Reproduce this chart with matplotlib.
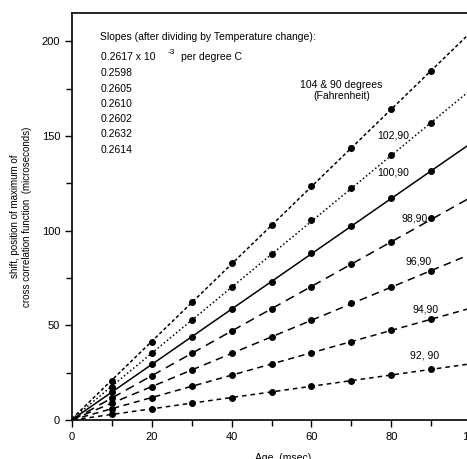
import matplotlib

matplotlib.use("Agg")
import matplotlib.pyplot as plt
import numpy as np
from matplotlib.ticker import MultipleLocator

matplotlib.rcParams.update(
    {
        "font.family": "sans-serif",
        "font.sans-serif": ["Liberation Sans", "DejaVu Sans"],
        "font.size": 7.5,
    }
)

# Age in msec
age = [10, 20, 30, 40, 50, 60, 70, 80, 90]

# shift (microseconds) for each temperature pair (F)
shift_104 = [20.8, 41.3, 62.1, 82.7, 103.0, 123.5, 143.7, 164.0, 184.3]
shift_102 = [17.6, 35.2, 52.8, 70.0, 87.6, 105.5, 122.3, 139.8, 156.7]
shift_100 = [14.6, 29.4, 44.0, 58.6, 73.0, 88.0, 102.4, 117.0, 131.5]
shift_98 = [11.8, 23.4, 35.2, 47.1, 58.4, 70.4, 82.2, 93.8, 106.5]
shift_96 = [8.8, 17.6, 26.4, 35.2, 44.0, 52.8, 61.6, 70.0, 78.8]
shift_94 = [5.9, 11.8, 17.9, 23.7, 29.6, 35.5, 41.3, 47.5, 53.1]
shift_92 = [3.0, 5.8, 8.8, 11.8, 14.9, 18.1, 20.7, 23.7, 26.7]

series_labels = ["104 & 90 degrees\n(Fahrenheit)", "102,90", "100,90", "98,90",
                 "96,90", "94,90", "92, 90"]
slopes = ["0.2617", "0.2598", "0.2605", "0.2610", "0.2602", "0.2632", "0.2614"]

series = [shift_104, shift_102, shift_100, shift_98, shift_96, shift_94, shift_92]
styles = [(0, (2.2, 1.6)), (0, (1.0, 1.6)), "-", (0, (6, 4)), (0, (5, 3.5)),
          (0, (4, 3)), (0, (3, 2.6))]
label_pos = [(67.5, 174), (80.4, 150.4), (80.4, 130.9), (85.9, 106.6),
             (86.7, 83.9), (88.5, 58.6), (88.2, 33.8)]

fig = plt.figure(figsize=(4.67, 4.59), dpi=100)
ax = fig.add_axes([0.154, 0.085, 0.855, 0.887])

x = np.array(age, dtype=float)
for ys, ls in zip(series, styles):
    y = np.array(ys, dtype=float)
    a, b = np.polyfit(x, y, 1)
    x0 = max(0.0, -b / a)
    xl = np.array([x0, 100.0])
    ax.plot(xl, a * xl + b, color="black", linestyle=ls, linewidth=1.1)
    ax.plot(x, y, "o", color="black", markersize=4.0)

for (tx, ty), lab in zip(label_pos, series_labels):
    ax.text(tx, ty, lab, ha="center", va="center", fontsize=7.5)

ax.text(7.0, 202, "Slopes (after dividing by Temperature change):", ha="left",
        va="center", fontsize=7.5)
ys0 = [191.7, 183.5, 175.0, 167.1, 158.8, 150.8, 142.5]
for i, (s, yy) in enumerate(zip(slopes, ys0)):
    if i == 0:
        ax.text(7.3, yy, s + " x 10", ha="left", va="center", fontsize=7.5)
        ax.text(24.0, yy + 2.2, "-3", ha="left", va="center", fontsize=6)
        ax.text(27.3, yy, "per degree C", ha="left", va="center", fontsize=7.5)
    else:
        ax.text(7.3, yy, s, ha="left", va="center", fontsize=7.5)

ax.set_xlim(0, 100)
ax.set_ylim(0, 215)
ax.xaxis.set_major_locator(MultipleLocator(20))
ax.xaxis.set_minor_locator(MultipleLocator(10))
ax.yaxis.set_major_locator(MultipleLocator(50))
ax.yaxis.set_minor_locator(MultipleLocator(25))
ax.tick_params(which="major", direction="out", length=5, width=1.0, labelsize=8)
ax.tick_params(which="minor", direction="out", length=4, width=1.0)
ax.spines["right"].set_visible(False)
for sp in ["left", "bottom", "top"]:
    ax.spines[sp].set_linewidth(1.2)

ax.set_ylabel("shift, position of maximum of\ncross correlation function  (microseconds)",
              fontsize=7, labelpad=7)
ax.set_xlabel("Age  (msec)", fontsize=7.5, labelpad=10)
ax.xaxis.set_label_coords(0.53, -0.082)

fig.savefig("out.png", dpi=100)
